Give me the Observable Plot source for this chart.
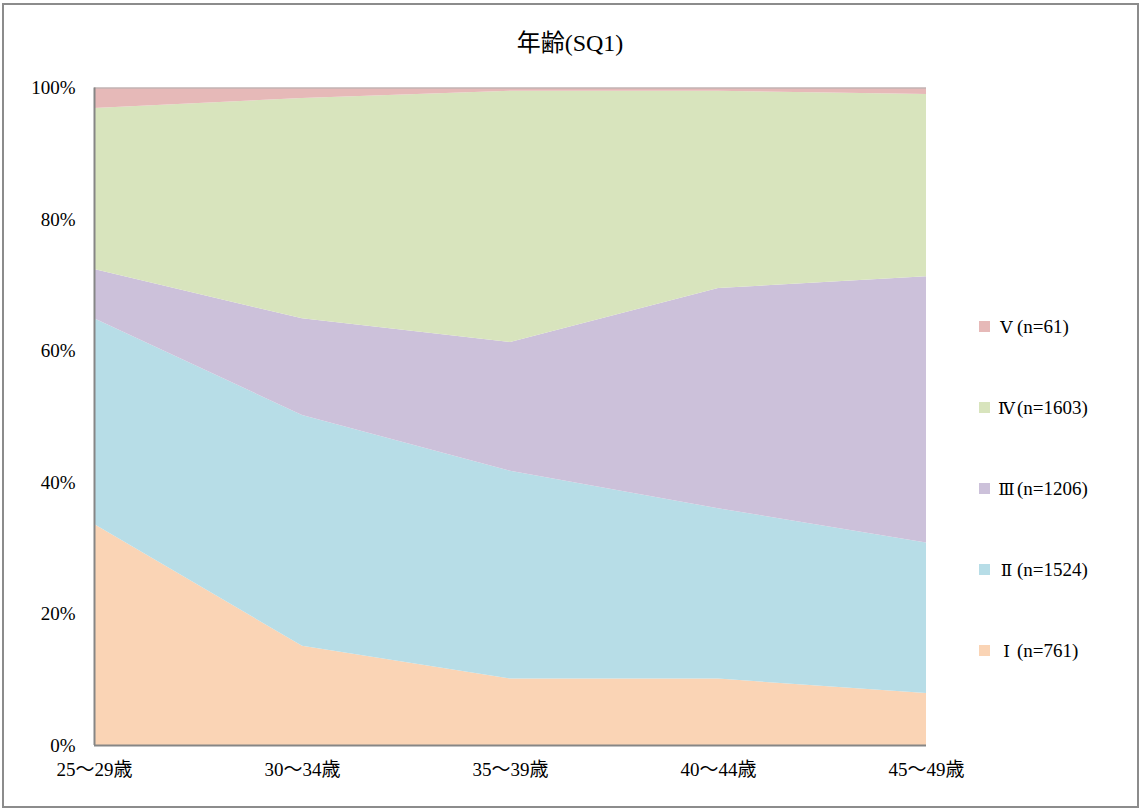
<!DOCTYPE html>
<html>
<head>
<meta charset="utf-8">
<script src="https://cdn.jsdelivr.net/npm/d3@7"></script>
<script src="https://cdn.jsdelivr.net/npm/@observablehq/plot@0.6"></script>
<style>
  html, body { margin: 0; padding: 0; background: #fff; }
  #wrap { position: relative; width: 1140px; height: 809px; overflow: hidden;
    font-family: "Liberation Serif", "DejaVu Serif", "Noto Sans CJK JP", serif; color: #000; }
  #border { position: absolute; left: 2px; top: 3px; width: 1133px; height: 801px; border: 2px solid #8c8c8c; }
  #title { position: absolute; left: 0; top: 28px; width: 1140px; text-align: center; font-size: 24px; line-height: 30px; }
  #chart { position: absolute; left: 0; top: 60px; }
  #legend { position: absolute; left: 979px; top: 0; }
  .item { position: absolute; left: 0; white-space: nowrap; font-size: 19px; height: 22px; line-height: 22px; }
  .sw { position: absolute; left: 0; top: 5px; width: 11px; height: 11px; }
  .lb { position: absolute; left: 16px; top: 0; }
  .rn { font-family: "DejaVu Serif", "Liberation Serif", serif; font-size: 17px; display: inline-block; width: 22px; text-align: center; letter-spacing: -1px; }
</style>
</head>
<body>
<div id="wrap">
  <div id="border"></div>
  <div id="title">年齢(SQ1)</div>
  <div id="chart"></div>
  <div id="legend"></div>
</div>
<script>
const categories = ["25～29歳", "30～34歳", "35～39歳", "40～44歳", "45～49歳"];
const seriesNames = ["Ⅰ", "Ⅱ", "Ⅲ", "Ⅳ", "Ⅴ"];
const seriesCounts = ["(n=761)", "(n=1524)", "(n=1206)", "(n=1603)", "(n=61)"];
const seriesColors = ["#fad4b5", "#b7dde7", "#ccc1da", "#d8e4bd", "#e6b9b8"];
const valuesI   = [33.6, 15.1, 10.1, 10.1, 7.9];
const valuesII  = [31.3, 35.1, 31.6, 25.9, 22.9];
const valuesIII = [7.5, 14.7, 19.6, 33.5, 40.5];
const valuesIV  = [24.5, 33.5, 38.2, 30.0, 27.7];
const valuesV   = [3.1, 1.6, 0.5, 0.5, 1.0];
const yTicks = [0, 20, 40, 60, 80, 100];

const allValues = [valuesI, valuesII, valuesIII, valuesIV, valuesV];
const data = [];
seriesNames.forEach((s, si) => {
  categories.forEach((c, ci) => data.push({series: s, age: c, value: allValues[si][ci]}));
});

const chart = Plot.plot({
  width: 1140,
  height: 749,
  marginLeft: 94,
  marginRight: 214,
  marginTop: 27.5,
  marginBottom: 64,
  style: {fontFamily: '"Liberation Serif", "DejaVu Serif", "Noto Sans CJK JP", serif', fontSize: "19px", color: "#000", background: "transparent"},
  x: {type: "point", domain: categories, padding: 0, label: null},
  y: {domain: [0, 100], label: null},
  color: {domain: seriesNames, range: seriesColors},
  marks: [
    Plot.areaY(data, {x: "age", y: "value", fill: "series", z: "series", order: seriesNames, curve: "linear"}),
    Plot.ruleY([100], {stroke: "#b0b0b0", strokeWidth: 1}),
    Plot.ruleY([0], {stroke: "#868686", strokeWidth: 2}),
    Plot.ruleX([categories[0]], {stroke: "#868686", strokeWidth: 2}),
    Plot.axisY({ticks: yTicks, tickSize: 0, tickPadding: 19, tickFormat: d => d + "%", label: null, fontSize: 19}),
    Plot.axisX({tickSize: 0, tickPadding: 17, label: null, fontSize: 19})
  ]
});
document.getElementById("chart").appendChild(chart);

const legend = document.getElementById("legend");
const rowY = [651, 570, 489, 408, 327];
seriesNames.forEach((s, i) => {
  const item = document.createElement("div");
  item.className = "item";
  item.style.top = (rowY[i] - 11) + "px";
  const sw = document.createElement("div");
  sw.className = "sw";
  sw.style.background = seriesColors[i];
  const lb = document.createElement("div");
  lb.className = "lb";
  const rn = document.createElement("span");
  rn.className = "rn";
  rn.textContent = s;
  lb.appendChild(rn);
  lb.appendChild(document.createTextNode(seriesCounts[i]));
  item.appendChild(sw);
  item.appendChild(lb);
  legend.appendChild(item);
});
</script>
</body>
</html>
